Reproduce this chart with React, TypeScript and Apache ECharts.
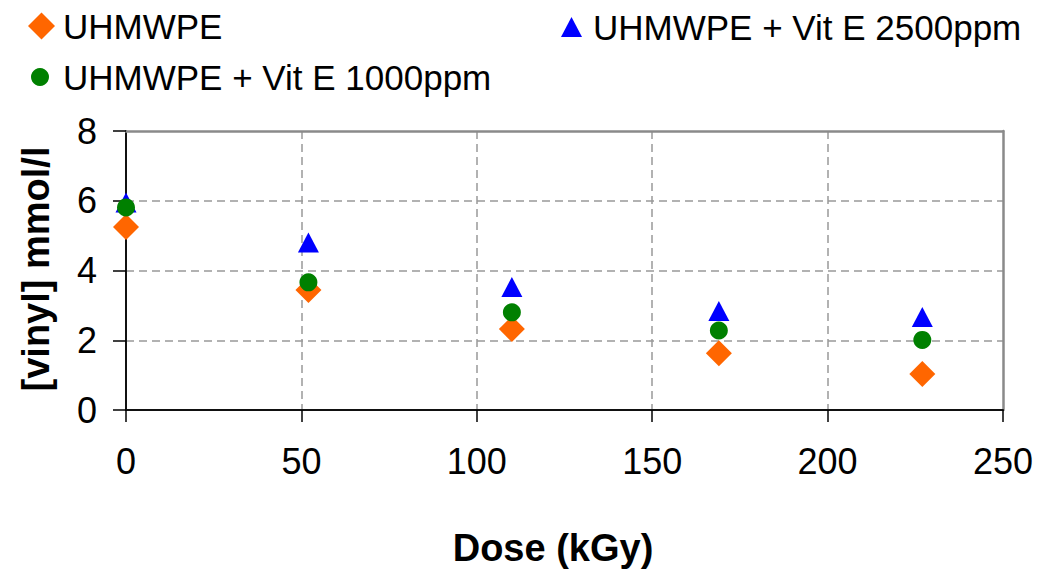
import React, { useEffect, useRef } from "react";
import * as echarts from "echarts";

const doses = [0, 52, 110, 169, 227];
const uhmwpe = [5.25, 3.44, 2.32, 1.63, 1.03];
const vitE2500 = [5.95, 4.8, 3.53, 2.84, 2.67];
const vitE1000 = [5.81, 3.66, 2.8, 2.28, 2.01];

const seriesNames = ["UHMWPE", "UHMWPE + Vit E 2500ppm", "UHMWPE + Vit E 1000ppm"];
const xTitle = "Dose (kGy)";
const yTitle = "[vinyl] mmol/l";

const FONT = "'Liberation Sans', Arial, Helvetica, sans-serif";

const pairs = (ys: number[]) => doses.map((d, i) => [d, ys[i]]);

export default function App() {
  const ref = useRef<HTMLDivElement>(null);
  useEffect(() => {
    if (!ref.current) return;
    const chart = echarts.init(ref.current, null, { renderer: "svg" });
    const legendText = { fontSize: 35, fontFamily: FONT, color: "#000", lineHeight: 36 };
    const frameAxis = {
      type: "value",
      axisLine: { show: true, onZero: false, lineStyle: { color: "#8a8a8a", width: 2.5 } },
      axisTick: { show: false },
      axisLabel: { show: false },
      splitLine: { show: false },
    };
    chart.setOption({
      animation: false,
      backgroundColor: "#fff",
      grid: {
        left: 126,
        right: 39,
        top: 131,
        bottom: 164,
        show: true,
        borderWidth: 0,
        backgroundColor: "#fff",
      },
      legend: [
        {
          data: [seriesNames[0]],
          left: 28,
          top: 8,
          padding: 0,
          itemWidth: 27,
          itemHeight: 27,
          textStyle: { ...legendText, padding: [0, 0, 0, 3] },
        },
        {
          data: [seriesNames[2]],
          left: 31,
          top: 59,
          padding: 0,
          itemWidth: 18,
          itemHeight: 18,
          textStyle: { ...legendText, padding: [0, 0, 0, 9] },
        },
        {
          data: [seriesNames[1]],
          left: 561,
          top: 9,
          padding: 0,
          itemWidth: 21,
          itemHeight: 20,
          textStyle: { ...legendText, padding: [0, 0, 0, 6] },
        },
      ],
      xAxis: [
        {
          type: "value",
          min: 0,
          max: 250,
          interval: 50,
          axisLine: { show: true, onZero: false, lineStyle: { color: "#111", width: 2 } },
          axisTick: { show: true, length: 12, lineStyle: { color: "#000", width: 1.5 } },
          axisLabel: { fontSize: 36, fontFamily: FONT, color: "#000", margin: 33 },
          splitLine: {
            show: true,
            showMinLine: false,
            showMaxLine: false,
            lineStyle: { color: "#999", width: 1.5, type: [8, 5] },
          },
        },
        { ...frameAxis, position: "top", min: 0, max: 250, interval: 50 },
      ],
      yAxis: [
        {
          type: "value",
          min: 0,
          max: 8,
          interval: 2,
          axisLine: { show: true, onZero: false, lineStyle: { color: "#111", width: 2 } },
          axisTick: { show: true, length: 13, lineStyle: { color: "#000", width: 1.5 } },
          axisLabel: { fontSize: 36, fontFamily: FONT, color: "#000", margin: 29 },
          splitLine: {
            show: true,
            showMinLine: false,
            showMaxLine: false,
            lineStyle: { color: "#999", width: 1.5, type: [8, 5] },
          },
        },
        { ...frameAxis, position: "right", min: 0, max: 8, interval: 2 },
      ],
      series: [
        {
          name: seriesNames[0],
          type: "scatter",
          clip: false,
          symbol: "diamond",
          symbolSize: 26,
          itemStyle: { color: "#FF6600", opacity: 1 },
          data: pairs(uhmwpe),
        },
        {
          name: seriesNames[1],
          type: "scatter",
          clip: false,
          symbol: "triangle",
          symbolSize: [21, 20],
          itemStyle: { color: "#0000FF", opacity: 1 },
          data: pairs(vitE2500),
        },
        {
          name: seriesNames[2],
          type: "scatter",
          clip: false,
          symbol: "circle",
          symbolSize: 18,
          itemStyle: { color: "#008000", opacity: 1 },
          data: pairs(vitE1000),
        },
      ],
      graphic: [
        {
          type: "text",
          x: 553,
          y: 548,
          style: {
            text: xTitle,
            fontSize: 38,
            fontWeight: "bold",
            fontFamily: FONT,
            fill: "#000",
            align: "center",
            verticalAlign: "middle",
          },
        },
        {
          type: "text",
          x: 36,
          y: 269,
          rotation: Math.PI / 2,
          style: {
            text: yTitle,
            fontSize: 38,
            fontWeight: "bold",
            fontFamily: FONT,
            fill: "#000",
            align: "center",
            verticalAlign: "middle",
          },
        },
      ],
    });
    return () => chart.dispose();
  }, []);
  return (
    <div
      ref={ref}
      style={{ position: "absolute", left: 0, top: 0, width: 1042, height: 574 }}
    />
  );
}
